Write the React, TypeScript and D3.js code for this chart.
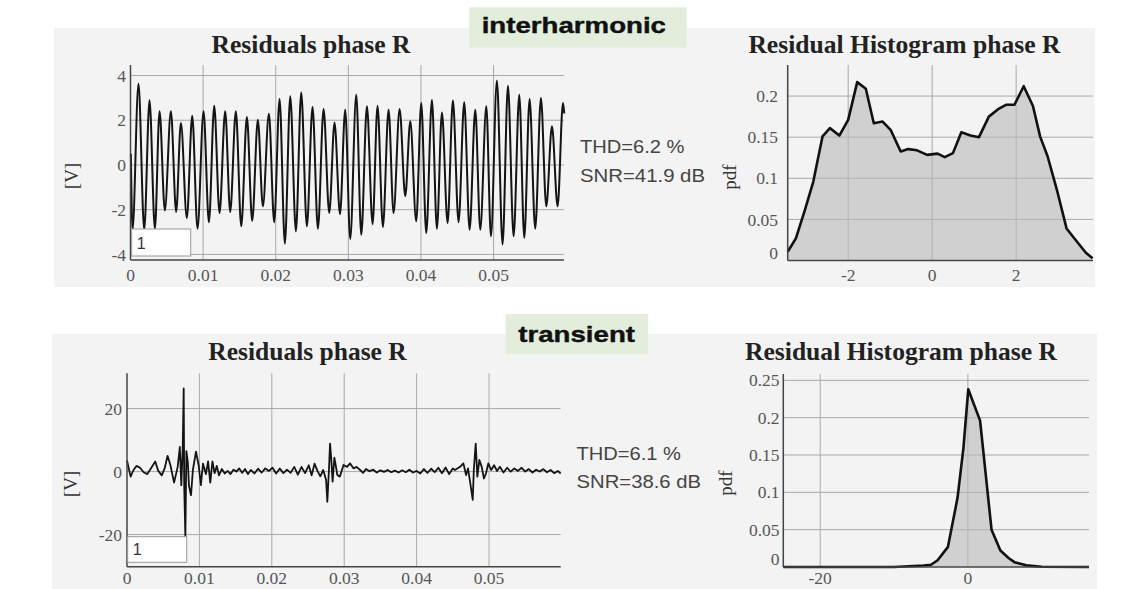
import React from 'react';
import * as d3 from 'd3';

// ---------- data ----------
const timeTicks = [0, 0.01, 0.02, 0.03, 0.04, 0.05];

// interharmonic residual (extrema)
const interT = [0.00005, 0.00028, 0.0011, 0.00189, 0.00262, 0.00336, 0.004, 0.00473, 0.00556, 0.00629, 0.00694, 0.00776, 0.0085, 0.00923, 0.01006, 0.0108, 0.01153, 0.01226, 0.01304, 0.01373, 0.01451, 0.01525, 0.01603, 0.01676, 0.01754, 0.01823, 0.01906, 0.01979, 0.02053, 0.02126, 0.022, 0.02278, 0.02351, 0.02429, 0.02507, 0.02581, 0.02659, 0.02737, 0.0281, 0.02885, 0.02957, 0.03026, 0.03109, 0.03178, 0.03256, 0.03334, 0.03402, 0.03476, 0.03554, 0.03623, 0.03706, 0.03784, 0.03853, 0.03935, 0.04004, 0.04073, 0.04151, 0.0422, 0.04289, 0.04367, 0.0444, 0.04518, 0.04596, 0.0467, 0.04748, 0.04817, 0.049, 0.04964, 0.05046, 0.05124, 0.05198, 0.05276, 0.05354, 0.05423, 0.05496, 0.05574, 0.05652, 0.05726, 0.05804, 0.05882, 0.05956, 0.05974];
const interV = [0.5, -2.9, 3.63, -2.9, 2.89, -2.85, 2.4, -2.03, 2.4, -2.1, 1.88, -2.37, 2.2, -2.85, 2.4, -2.56, 2.65, -2.15, 2.4, -2.1, 2.4, -2.74, 2.14, -2.5, 2.02, -1.85, 2.29, -2.56, 2.95, -3.52, 3.07, -2.97, 3.24, -2.74, 2.59, -2.85, 2.5, -2.15, 1.9, -2.2, 2.47, -3.31, 3.14, -3.12, 2.62, -2.65, 2.65, -2.77, 2.47, -2.15, 2.5, -1.4, 1.95, -2.52, 2.77, -3.04, 2.9, -2.85, 2.35, -2.6, 2.88, -2.56, 2.8, -2.9, 2.47, -2.9, 2.62, -3.19, 3.78, -3.56, 3.54, -3.19, 3.14, -3.26, 2.95, -2.85, 2.99, -1.85, 1.73, -1.85, 2.77, 2.3];
const interYTicks = [-4, -2, 0, 2, 4];

// transient residual
const transT = [0, 0.0005, 0.0009, 0.0013, 0.0018, 0.0023, 0.0028, 0.0033, 0.0039, 0.0043, 0.0048, 0.0052, 0.0056, 0.006, 0.0065, 0.007, 0.0073, 0.0075, 0.0077, 0.00783, 0.0079, 0.00806, 0.0082, 0.0084, 0.00856, 0.00884, 0.0091, 0.00953, 0.0099, 0.0102, 0.0105, 0.0109, 0.0112, 0.0115, 0.0118, 0.0121, 0.0124, 0.0127, 0.0131, 0.0135, 0.0139, 0.0143, 0.0147, 0.0151, 0.0155, 0.0159, 0.0163, 0.0167, 0.0171, 0.0176, 0.0181, 0.0186, 0.0191, 0.0196, 0.0201, 0.0206, 0.0211, 0.0216, 0.0221, 0.0226, 0.0231, 0.0236, 0.0241, 0.0246, 0.0251, 0.0255, 0.0259, 0.0263, 0.0267, 0.0271, 0.0275, 0.02767, 0.0279, 0.02804, 0.0282, 0.0284, 0.02864, 0.0289, 0.02905, 0.0294, 0.0299, 0.0304, 0.0308, 0.0313, 0.0317, 0.0322, 0.0326, 0.033, 0.0335, 0.034, 0.0345, 0.035, 0.0355, 0.036, 0.0365, 0.037, 0.0375, 0.038, 0.0385, 0.039, 0.0395, 0.04, 0.0405, 0.041, 0.0415, 0.042, 0.0425, 0.043, 0.0435, 0.044, 0.0445, 0.045, 0.0453, 0.046, 0.04646, 0.04683, 0.0471, 0.04738, 0.04775, 0.0479, 0.04816, 0.04839, 0.04867, 0.04899, 0.0493, 0.04958, 0.0499, 0.0503, 0.0507, 0.0511, 0.0515, 0.052, 0.0525, 0.053, 0.0535, 0.054, 0.0545, 0.055, 0.0555, 0.056, 0.0565, 0.057, 0.0575, 0.058, 0.0585, 0.059, 0.0595, 0.0599];
const transV = [3.5, -1.6, 0.5, 1.8, 1.2, -0.2, -0.8, 1.0, 3.2, 0.3, -1.2, 1.0, 5.0, 2.0, -3.5, 1.5, 7.8, -4.3, 7.5, 26.4, -4.3, -20.7, 6.5, 3.0, -4.5, -7.5, 0.5, 6.3, 2.0, -4.3, 2.5, -0.8, 3.2, -3.5, 3.2, -0.5, 1.8, -1.2, 0.8, -0.6, 0.2, -0.8, 0.6, 0.0, 1.0, -0.4, 0.8, -0.8, 0.5, -0.6, 0.9, -0.3, 1.0, 0.2, 1.2, -0.6, 1.0, -0.5, 0.6, -0.4, 1.5, -1.0, 1.5, -0.5, 2.0, -1.2, 2.5, 0.2, -1.5, 0.5, -2.7, -9.6, 1.0, 8.9, 4.4, -3.2, 4.4, 1.0, -1.1, -1.6, 2.1, 1.5, 2.6, 1.0, 1.5, 0.5, -0.4, 0.8, 0.1, 0.6, -0.3, 0.4, -0.1, 0.5, -0.2, 0.3, -0.3, 0.4, -0.2, 0.6, -0.3, 0.2, -0.6, 0.8, -0.4, 0.9, -0.2, 1.2, -0.5, 1.3, -0.8, 1.0, 0.5, 1.5, 2.6, -1.1, 1.0, -3.2, -9.0, 0.5, 8.9, -1.6, 3.7, 1.5, -2.2, -0.6, 2.6, 0.5, 2.0, 0.2, 1.5, -0.3, 1.2, 0.0, 1.0, 0.2, 1.2, 0.0, 0.8, -0.3, 0.6, 0.0, 0.8, -0.2, 0.5, -0.5, 0.2, -0.6];
const transYTicks = [-20, 0, 20];

// histograms
const histInterX = [-3.44, -3.245, -3.035, -2.83, -2.61, -2.435, -2.21, -2.0, -1.785, -1.58, -1.39, -1.18, -0.99, -0.75, -0.57, -0.36, -0.12, 0.13, 0.3, 0.495, 0.695, 0.914, 1.115, 1.35, 1.57, 1.77, 1.96, 2.18, 2.4, 2.57, 2.75, 2.97, 3.2, 3.45, 3.66, 3.82];
const histInterP = [0.0106, 0.027, 0.0606, 0.096, 0.151, 0.161, 0.152, 0.171, 0.217, 0.209, 0.167, 0.169, 0.159, 0.1326, 0.1355, 0.134, 0.1285, 0.13, 0.1257, 0.1306, 0.156, 0.152, 0.15, 0.175, 0.184, 0.1895, 0.1895, 0.212, 0.188, 0.151, 0.1265, 0.086, 0.039, 0.0228, 0.0094, 0.0026];
const histInterXTicks = [-2, 0, 2];
const histInterYTicks = [0, 0.05, 0.1, 0.15, 0.2];

const histTransX = [-25, -10, -8, -6, -5, -4.1, -2.7, -1.4, -0.6, 0.05, 1.65, 3.2, 4.4, 5.5, 6.3, 7.9, 10, 16.4];
const histTransP = [0, 0, 0.001, 0.002, 0.003, 0.009, 0.027, 0.093, 0.16, 0.238, 0.196, 0.05, 0.022, 0.012, 0.0065, 0.0022, 0.0003, 0];
const histTransXTicks = [-20, 0];
const histTransYTicks = [0, 0.05, 0.1, 0.15, 0.2, 0.25];

// ---------- styles ----------
const SERIF = '"Liberation Serif", "Times New Roman", serif';
const SANS = '"Liberation Sans", Arial, sans-serif';
const GRID = '#a8a8a8';
const AXIS = '#444';
const TICK = '#555';

type SigProps = {
  x: d3.ScaleLinear<number, number>;
  y: d3.ScaleLinear<number, number>;
  t: number[];
  v: number[];
  yTicks: number[];
  labelBase: number;
  yLabelX: number;
  curve: d3.CurveFactory;
  strokeW: number;
  title: { x: number; y: number; w: number };
  vLabel: { x: number; y: number };
  legend: { x: number; y: number; w: number; h: number };
  stats: { x: number; y1: number; y2: number; thd: string; snr: string; w1: number; w2: number };
};

function SignalChart(p: SigProps) {
  const [x0, x1] = p.x.range();
  const [y0, y1] = p.y.range();
  const pts = p.t.map((tt, i) => [tt, p.v[i]] as [number, number]);
  const line = d3.line<[number, number]>().x(d => p.x(d[0])).y(d => p.y(d[1])).curve(p.curve);
  return (
    <g>
      {timeTicks.filter(t => t > 0).map(t => (
        <line key={'vx' + t} x1={p.x(t)} x2={p.x(t)} y1={y1} y2={y0} stroke={GRID} strokeWidth={1} />
      ))}
      {p.yTicks.map(v => (
        <line key={'hy' + v} x1={x0} x2={x1} y1={p.y(v)} y2={p.y(v)} stroke={GRID} strokeWidth={1} />
      ))}
      <path d={line(pts) || ''} fill="none" stroke="#141414" strokeWidth={p.strokeW} strokeLinejoin="round" />
      <line x1={x0} x2={x0} y1={y1} y2={y0} stroke={AXIS} strokeWidth={1.5} />
      <line x1={x0} x2={x1} y1={y0} y2={y0} stroke={AXIS} strokeWidth={1.5} />
      {p.yTicks.map(v => (
        <text key={'yl' + v} x={p.yLabelX} y={p.y(v)} dy="0.35em" textAnchor="end" fontFamily={SERIF} fontSize={17.5} fill={TICK}>{String(v)}</text>
      ))}
      {timeTicks.map(t => (
        <text key={'xl' + t} x={p.x(t)} y={p.labelBase} textAnchor="middle" fontFamily={SERIF} fontSize={17.5} fill={TICK}>{String(t)}</text>
      ))}
      <rect x={p.legend.x} y={p.legend.y} width={p.legend.w} height={p.legend.h} fill="#fff" stroke="#999" strokeWidth={1} />
      <text x={p.legend.x + 5} y={p.legend.y + p.legend.h - 7} fontFamily={SANS} fontSize={16} fill="#333">1</text>
      <text x={p.title.x} y={p.title.y} textAnchor="middle" fontFamily={SERIF} fontWeight="bold" fontSize={25.5} fill="#222" textLength={p.title.w} lengthAdjust="spacingAndGlyphs">Residuals phase R</text>
      <text transform={`translate(${p.vLabel.x},${p.vLabel.y}) rotate(-90)`} textAnchor="middle" dy="0.35em" fontFamily={SERIF} fontSize={19} fill="#333">[V]</text>
      <text x={p.stats.x} y={p.stats.y1} fontFamily={SANS} fontSize={19} fill="#444" textLength={p.stats.w1} lengthAdjust="spacingAndGlyphs">{p.stats.thd}</text>
      <text x={p.stats.x} y={p.stats.y2} fontFamily={SANS} fontSize={19} fill="#444" textLength={p.stats.w2} lengthAdjust="spacingAndGlyphs">{p.stats.snr}</text>
    </g>
  );
}

type HistProps = {
  x: d3.ScaleLinear<number, number>;
  y: d3.ScaleLinear<number, number>;
  xs: number[];
  ps: number[];
  xTicks: number[];
  yTicks: number[];
  labelBase: number;
  yLabelX: number;
  zeroLabelY: number;
  title: { x: number; y: number; w: number };
  pdf: { x: number; y: number };
};

function HistChart(p: HistProps) {
  const [x0, x1] = p.x.range();
  const [y0, y1] = p.y.range();
  const pts = p.xs.map((xx, i) => [xx, p.ps[i]] as [number, number]);
  const area = d3.area<[number, number]>().x(d => p.x(d[0])).y0(p.y(0)).y1(d => p.y(d[1]));
  const line = d3.line<[number, number]>().x(d => p.x(d[0])).y(d => p.y(d[1]));
  return (
    <g>
      {p.xTicks.map(v => (
        <line key={'vx' + v} x1={p.x(v)} x2={p.x(v)} y1={y1} y2={y0} stroke={GRID} strokeWidth={1} />
      ))}
      {p.yTicks.filter(v => v > 0).map(v => (
        <line key={'hy' + v} x1={x0} x2={x1} y1={p.y(v)} y2={p.y(v)} stroke={GRID} strokeWidth={1} />
      ))}
      <path d={area(pts) || ''} fill="#b9b9b9" fillOpacity={0.62} />
      <path d={line(pts) || ''} fill="none" stroke="#111" strokeWidth={2.6} strokeLinejoin="round" />
      <line x1={x0} x2={x0} y1={y1} y2={y0} stroke={AXIS} strokeWidth={1.5} />
      <line x1={x0} x2={x1} y1={y0} y2={y0} stroke={AXIS} strokeWidth={1.5} />
      {p.yTicks.map(v => (
        <text key={'yl' + v} x={p.yLabelX} y={v === 0 ? p.zeroLabelY : p.y(v)} dy="0.35em" textAnchor="end" fontFamily={SERIF} fontSize={17.5} fill={TICK}>{String(v)}</text>
      ))}
      {p.xTicks.map(v => (
        <text key={'xl' + v} x={p.x(v)} y={p.labelBase} textAnchor="middle" fontFamily={SERIF} fontSize={17.5} fill={TICK}>{String(v)}</text>
      ))}
      <text x={p.title.x} y={p.title.y} textAnchor="middle" fontFamily={SERIF} fontWeight="bold" fontSize={25.5} fill="#222" textLength={p.title.w} lengthAdjust="spacingAndGlyphs">Residual Histogram phase R</text>
      <text transform={`translate(${p.pdf.x},${p.pdf.y}) rotate(-90)`} textAnchor="middle" dy="0.35em" fontFamily={SERIF} fontSize={19} fill="#333">pdf</text>
    </g>
  );
}

function Badge({ x, y, w, h, tx, tb, tw, label }: { x: number; y: number; w: number; h: number; tx: number; tb: number; tw: number; label: string }) {
  return (
    <g>
      <rect x={x} y={y} width={w} height={h} fill="#e2eedb" />
      <text x={tx} y={tb} fontFamily={SANS} fontWeight="bold" fontSize={22} fill="#111" stroke="#111" strokeWidth={0.4} textLength={tw} lengthAdjust="spacingAndGlyphs">{label}</text>
    </g>
  );
}

export default function App() {
  const xTop = d3.scaleLinear().domain([0, 0.0597]).range([130.5, 564]);
  const yTop = d3.scaleLinear().domain([-4.25, 4.47]).range([260, 65]);
  const xBot = d3.scaleLinear().domain([0, 0.0599]).range([127, 560.7]);
  const yBot = d3.scaleLinear().domain([-30.2, 31.2]).range([566.7, 373.3]);
  const hxTop = d3.scaleLinear().domain([-3.44, 3.83]).range([787.7, 1093]);
  const hyTop = d3.scaleLinear().domain([0, 0.2378]).range([260.5, 65]);
  const hxBot = d3.scaleLinear().domain([-25, 16.4]).range([783.3, 1089]);
  const hyBot = d3.scaleLinear().domain([0, 0.2585]).range([567, 374]);

  return (
    <svg width={1135} height={589} style={{ position: 'absolute', left: 0, top: 0, background: '#fff' }}>
      <rect x={0} y={0} width={1135} height={589} fill="#fff" />
      <rect x={54} y={28} width={1041} height={259} fill="#f3f3f3" />
      <rect x={52} y={334} width={1045} height={255} fill="#f3f3f3" />

      <SignalChart x={xTop} y={yTop} t={interT} v={interV} yTicks={interYTicks} labelBase={280.5} yLabelX={126}
        curve={d3.curveMonotoneX} strokeW={2}
        title={{ x: 311, y: 52.7, w: 199 }} vLabel={{ x: 71, y: 176 }}
        legend={{ x: 131.7, y: 229, w: 59, h: 27 }}
        stats={{ x: 580, y1: 153.3, y2: 181.7, thd: 'THD=6.2 %', snr: 'SNR=41.9 dB', w1: 104.5, w2: 125 }} />
      <HistChart x={hxTop} y={hyTop} xs={histInterX} ps={histInterP} xTicks={histInterXTicks} yTicks={histInterYTicks}
        labelBase={281} yLabelX={778} zeroLabelY={252.5}
        title={{ x: 904.4, y: 52.7, w: 312 }} pdf={{ x: 729, y: 177 }} />

      <SignalChart x={xBot} y={yBot} t={transT} v={transV} yTicks={transYTicks} labelBase={583.5} yLabelX={122}
        curve={d3.curveLinear} strokeW={1.8}
        title={{ x: 307.5, y: 360, w: 198.4 }} vLabel={{ x: 70, y: 484 }}
        legend={{ x: 127.7, y: 536.7, w: 59, h: 25.6 }}
        stats={{ x: 576.5, y1: 460, y2: 488.3, thd: 'THD=6.1 %', snr: 'SNR=38.6 dB', w1: 104.5, w2: 124.5 }} />
      <HistChart x={hxBot} y={hyBot} xs={histTransX} ps={histTransP} xTicks={histTransXTicks} yTicks={histTransYTicks}
        labelBase={583.5} yLabelX={779.5} zeroLabelY={559.3}
        title={{ x: 901, y: 360, w: 312 }} pdf={{ x: 725, y: 483 }} />

      <Badge x={469.3} y={7.3} w={217.4} h={40.4} tx={481.7} tb={33.3} tw={184.3} label="interharmonic" />
      <Badge x={505.7} y={314} w={142.3} h={40} tx={518.3} tb={342.3} tw={116.7} label="transient" />
    </svg>
  );
}
